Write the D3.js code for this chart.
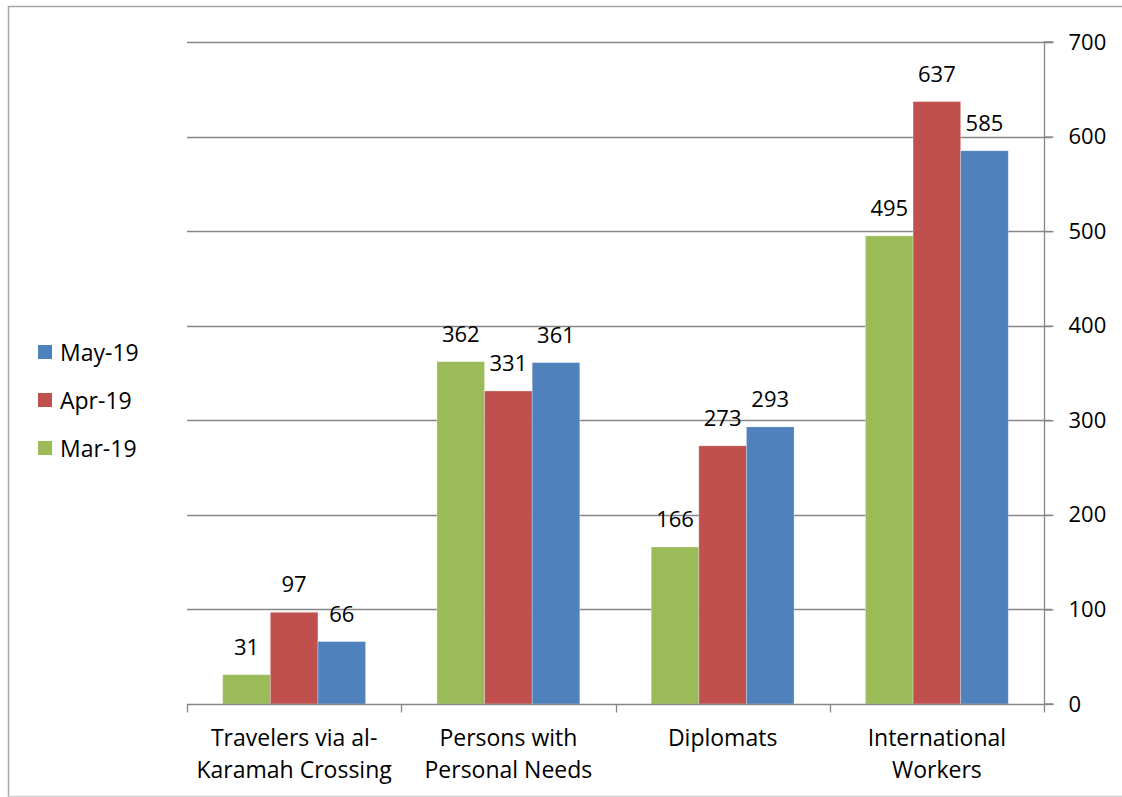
<!DOCTYPE html>
<html>
<head>
<meta charset="utf-8">
<script src="https://cdn.jsdelivr.net/npm/d3@7"></script>
<style>
  body { margin: 0; background: #fff; }
  svg { display: block; font-family: "Open Sans", "Noto Sans", sans-serif; }
</style>
</head>
<body>
<script>
let categories = [["Travelers via al-", "Karamah Crossing"], ["Persons with", "Personal Needs"], ["Diplomats"], ["International", "Workers"]];
let seriesNames = ["Mar-19", "Apr-19", "May-19"];
let seriesColors = ["#9bbb59", "#c0504d", "#4f81bd"];
let mar19 = [31, 362, 166, 495];
let apr19 = [97, 331, 273, 637];
let may19 = [66, 361, 293, 585];
let yTicks = [0, 100, 200, 300, 400, 500, 600, 700];

let seriesValues = [mar19, apr19, may19];

let svg = d3.select("body").append("svg").attr("width", 1122).attr("height", 797);

// chart frame
svg.append("path")
    .attr("d", "M8.5,797 L8.5,6.5 L1130,6.5")
    .attr("fill", "none").attr("stroke", "#a6a6a6").attr("stroke-width", 1.5);
svg.append("line")
    .attr("x1", 8).attr("x2", 1122).attr("y1", 796.5).attr("y2", 796.5)
    .attr("stroke", "#d0d0d0").attr("stroke-width", 1.5);

let plotL = 187, plotR = 1044, plotT = 42, plotB = 704;

let x0 = d3.scaleBand().domain(d3.range(categories.length)).range([plotL, plotR]).paddingInner(0).paddingOuter(0);
let bw = x0.bandwidth();
let x1 = d3.scaleBand().domain(d3.range(seriesNames.length)).range([bw / 6, bw * 5 / 6]);
let y = d3.scaleLinear().domain([0, 700]).range([plotB, plotT]);

// gridlines
svg.append("g").selectAll("line").data(yTicks.slice(1)).enter().append("line")
    .attr("x1", plotL).attr("x2", plotR + 8)
    .attr("y1", d => Math.round(y(d)) + 0.5).attr("y2", d => Math.round(y(d)) + 0.5)
    .attr("stroke", "#868686").attr("stroke-width", 1.3);

// right axis
let yAxis = svg.append("g").attr("transform", `translate(${plotR + 0.5},0)`)
    .call(d3.axisRight(y).tickValues(yTicks).tickSize(9).tickPadding(15));
yAxis.select(".domain").attr("stroke", "#868686").attr("stroke-width", 1.3).attr("d", `M9,${plotT}H0V${plotB}H9`);
yAxis.selectAll(".tick line").attr("stroke", "#868686").attr("stroke-width", 1.3);
yAxis.selectAll(".tick text").attr("font-size", "22px").attr("fill", "#000").attr("font-family", "Open Sans");

// bars
let groups = svg.append("g").selectAll("g").data(categories).enter().append("g")
    .attr("transform", (d, i) => `translate(${x0(i)},0)`);

groups.selectAll("rect").data((d, i) => seriesValues.map((s, k) => ({ k: k, v: s[i] })))
    .enter().append("rect")
    .attr("x", d => x1(d.k))
    .attr("width", x1.bandwidth())
    .attr("y", d => y(d.v))
    .attr("height", d => y(0) - y(d.v))
    .attr("fill", d => seriesColors[d.k])
    .attr("stroke", "#fff").attr("stroke-opacity", 0.35).attr("stroke-width", 0.8);

groups.selectAll("text.val").data((d, i) => seriesValues.map((s, k) => ({ k: k, v: s[i] })))
    .enter().append("text").attr("class", "val")
    .attr("x", d => x1(d.k) + x1.bandwidth() / 2)
    .attr("y", d => y(d.v) - 20)
    .attr("text-anchor", "middle")
    .attr("font-size", "22px")
    .text(d => d.v);

// category axis
let xAxisG = svg.append("g").attr("transform", `translate(0,${plotB + 0.5})`);
xAxisG.append("line").attr("x1", plotL).attr("x2", plotR).attr("stroke", "#868686").attr("stroke-width", 1.3);
xAxisG.selectAll("line.tk").data(d3.range(categories.length + 1)).enter().append("line").attr("class", "tk")
    .attr("x1", i => Math.round(plotL + i * bw) + 0.5).attr("x2", i => Math.round(plotL + i * bw) + 0.5)
    .attr("y1", 0).attr("y2", 8)
    .attr("stroke", "#868686").attr("stroke-width", 1.3);

let catLabels = svg.append("g").selectAll("text").data(categories).enter().append("text")
    .attr("text-anchor", "middle")
    .attr("font-size", "23px")
    .attr("transform", (d, i) => `translate(${x0(i) + bw / 2},746)`);
catLabels.selectAll("tspan").data(d => d).enter().append("tspan")
    .attr("x", 0).attr("dy", (d, i) => i === 0 ? 0 : 32)
    .text(d => d);

// legend
let legendOrder = [2, 1, 0];
let legend = svg.append("g").selectAll("g").data(legendOrder).enter().append("g")
    .attr("transform", (d, i) => `translate(38,${345 + i * 48})`);
legend.append("rect").attr("width", 14).attr("height", 14).attr("fill", d => seriesColors[d]);
legend.append("text").attr("x", 22).attr("y", 8).attr("dy", "0.36em")
    .attr("font-size", "23px").text(d => seriesNames[d]);
</script>
</body>
</html>
